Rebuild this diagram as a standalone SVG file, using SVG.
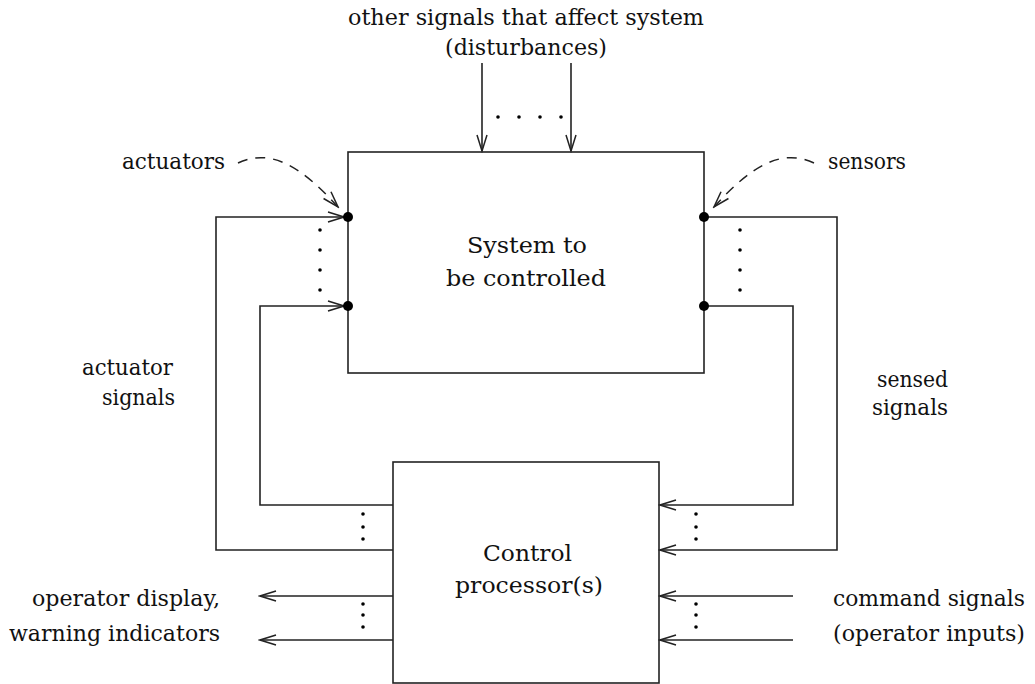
<svg xmlns="http://www.w3.org/2000/svg" width="1035" height="684" viewBox="0 0 1035 684">
  <style>
    text { font-family: "DejaVu Serif", "Liberation Serif", serif; font-size: 23px; fill: #111; }
    .box { fill: #fff; stroke: #222; stroke-width: 1.6; }
    .wire { fill: none; stroke: #222; stroke-width: 1.6; }
    .dash { fill: none; stroke: #222; stroke-width: 1.5; stroke-dasharray: 10 8; }
    .pin { fill: #000; }
    .dot { fill: #000; }
  </style>
  <defs>
    <marker id="head" viewBox="-18 -6 20 12" refX="0" refY="0" markerWidth="20" markerHeight="12" markerUnits="userSpaceOnUse" orient="auto">
      <path d="M-16,-5 L0,0 L-16,5" fill="none" stroke="#222" stroke-width="1.5"/>
    </marker>
  </defs>

  <!-- plant block -->
  <g id="system">
    <rect class="box" x="348" y="152" width="356" height="221"/>
    <text x="467" y="253" textLength="120" lengthAdjust="spacingAndGlyphs">System to</text>
    <text x="446" y="286" textLength="160" lengthAdjust="spacingAndGlyphs">be controlled</text>
  </g>

  <!-- controller block -->
  <g id="controller">
    <rect class="box" x="393" y="462" width="266" height="221"/>
    <text x="483" y="561" textLength="89" lengthAdjust="spacingAndGlyphs">Control</text>
    <text x="455" y="593" textLength="148" lengthAdjust="spacingAndGlyphs">processor(s)</text>
  </g>

  <!-- labels -->
  <g id="disturbances">
    <text x="526" y="25" text-anchor="middle" textLength="356" lengthAdjust="spacingAndGlyphs">other signals that affect system</text>
    <text x="526" y="55" text-anchor="middle" textLength="162" lengthAdjust="spacingAndGlyphs">(disturbances)</text>
  </g>
  <g id="actuators-label">
    <text x="122" y="169" textLength="103" lengthAdjust="spacingAndGlyphs">actuators</text>
  </g>
  <g id="sensors-label">
    <text x="828" y="169" textLength="78" lengthAdjust="spacingAndGlyphs">sensors</text>
  </g>
  <g id="actuator-signals">
    <text x="82" y="375" textLength="91" lengthAdjust="spacingAndGlyphs">actuator</text>
    <text x="102" y="405" textLength="73" lengthAdjust="spacingAndGlyphs">signals</text>
  </g>
  <g id="sensed-signals">
    <text x="877" y="387" textLength="71" lengthAdjust="spacingAndGlyphs">sensed</text>
    <text x="872" y="415" textLength="76" lengthAdjust="spacingAndGlyphs">signals</text>
  </g>
  <g id="operator-outputs">
    <text x="32" y="606" textLength="188" lengthAdjust="spacingAndGlyphs">operator display,</text>
    <text x="9" y="641" textLength="211" lengthAdjust="spacingAndGlyphs">warning indicators</text>
  </g>
  <g id="command-inputs">
    <text x="833" y="606" textLength="192" lengthAdjust="spacingAndGlyphs">command signals</text>
    <text x="833" y="641" textLength="192" lengthAdjust="spacingAndGlyphs">(operator inputs)</text>
  </g>

  <!-- signal paths -->
  <g id="connectors">
    <path class="wire" d="M482,63 V151" marker-end="url(#head)"/>
    <path class="wire" d="M571,63 V151" marker-end="url(#head)"/>
    <path class="wire" d="M393,550 H216 V217 H344" marker-end="url(#head)"/>
    <path class="wire" d="M393,505 H260 V306 H344" marker-end="url(#head)"/>
    <path class="wire" d="M704,217 H837 V550 H660" marker-end="url(#head)"/>
    <path class="wire" d="M704,306 H793 V505 H660" marker-end="url(#head)"/>
    <path class="wire" d="M393,596 H260" marker-end="url(#head)"/>
    <path class="wire" d="M393,640 H260" marker-end="url(#head)"/>
    <path class="wire" d="M793,596 H660" marker-end="url(#head)"/>
    <path class="wire" d="M793,640 H660" marker-end="url(#head)"/>
    <path class="dash" d="M238,163 C270,148 300,165 338,207" marker-end="url(#head)"/>
    <path class="dash" d="M814,163 C782,148 752,165 714,207" marker-end="url(#head)"/>
  </g>

  <!-- terminals on the plant -->
  <g id="terminals">
    <circle class="pin" cx="348" cy="217" r="5"/>
    <circle class="pin" cx="348" cy="306" r="5"/>
    <circle class="pin" cx="704" cy="217" r="5"/>
    <circle class="pin" cx="704" cy="306" r="5"/>
  </g>

  <!-- ellipsis dots for repeated channels -->
  <g id="ellipses">
    <circle class="dot" cx="498" cy="117" r="1.8"/>
    <circle class="dot" cx="519" cy="117" r="1.8"/>
    <circle class="dot" cx="540" cy="117" r="1.8"/>
    <circle class="dot" cx="561" cy="117" r="1.8"/>

    <circle class="dot" cx="320" cy="230" r="1.8"/>
    <circle class="dot" cx="320" cy="250" r="1.8"/>
    <circle class="dot" cx="320" cy="270" r="1.8"/>
    <circle class="dot" cx="320" cy="290" r="1.8"/>

    <circle class="dot" cx="740" cy="230" r="1.8"/>
    <circle class="dot" cx="740" cy="250" r="1.8"/>
    <circle class="dot" cx="740" cy="270" r="1.8"/>
    <circle class="dot" cx="740" cy="290" r="1.8"/>

    <circle class="dot" cx="363" cy="514" r="1.8"/>
    <circle class="dot" cx="363" cy="527" r="1.8"/>
    <circle class="dot" cx="363" cy="539" r="1.8"/>
    <circle class="dot" cx="363" cy="604" r="1.8"/>
    <circle class="dot" cx="363" cy="615" r="1.8"/>
    <circle class="dot" cx="363" cy="627" r="1.8"/>

    <circle class="dot" cx="696" cy="514" r="1.8"/>
    <circle class="dot" cx="696" cy="527" r="1.8"/>
    <circle class="dot" cx="696" cy="539" r="1.8"/>
    <circle class="dot" cx="696" cy="604" r="1.8"/>
    <circle class="dot" cx="696" cy="615" r="1.8"/>
    <circle class="dot" cx="696" cy="627" r="1.8"/>
  </g>
</svg>
